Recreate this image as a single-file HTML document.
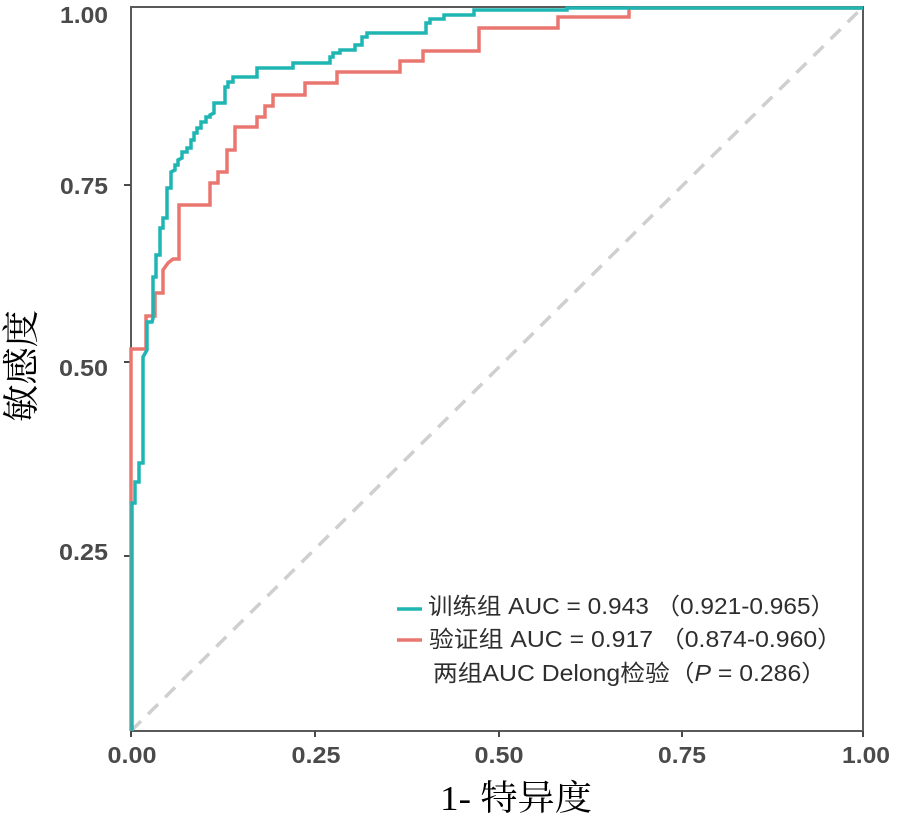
<!DOCTYPE html>
<html>
<head>
<meta charset="utf-8">
<style>
  html, body { margin:0; padding:0; background:#ffffff; }
  svg { display:block; }
</style>
</head>
<body>
<svg width="903" height="817" viewBox="0 0 903 817" xmlns="http://www.w3.org/2000/svg">
  <rect x="0" y="0" width="903" height="817" fill="#ffffff"/>

  <!-- diagonal reference -->
  <line x1="131" y1="731" x2="863" y2="7" stroke="#cfcfcf" stroke-width="3.5" stroke-dasharray="14 10"/>

  <!-- frame -->
  <rect x="131" y="7" width="732" height="724" fill="none" stroke="#5a5a5a" stroke-width="2"/>

  <!-- ticks -->
  <g stroke="#4a4a4a" stroke-width="2">
    <line x1="131" y1="731" x2="131" y2="737"/>
    <line x1="315" y1="731" x2="315" y2="737"/>
    <line x1="499" y1="731" x2="499" y2="737"/>
    <line x1="682" y1="731" x2="682" y2="737"/>
    <line x1="863" y1="731" x2="863" y2="737"/>
    <line x1="124" y1="185" x2="131" y2="185"/>
    <line x1="124" y1="362" x2="131" y2="362"/>
    <line x1="124" y1="556" x2="131" y2="556"/>
  </g>

  <!-- curves -->
  <path d="M131,731 L131,349 L146,349 L146,316 L155,316 L155,293 L163,293 L163,270 L168,263 L173,259 L179,259 L179,205 L210,205 L210,183 L218,183 L218,172 L227,172 L227,150 L235,150 L235,127 L257,127 L257,117 L265,117 L265,106 L273,106 L273,95 L305,95 L305,83 L337,83 L337,72 L400,72 L400,61 L423,61 L423,51 L479,51 L479,28 L558,28 L558,17 L629,17 L629,8 L863,8"
        fill="none" stroke="#ea7670" stroke-width="3.5"/>
  <path d="M132,731 L132,503 L135,503 L135,482 L139,482 L139,463 L143,463 L143,357 L147,350 L147,322 L152,322 L153,318 L153,277 L156,277 L156,255 L160,255 L160,228 L163,228 L163,218 L167,218 L167,188 L171,188 L171,172 L175,170 L175,165 L178,165 L178,160 L182,158 L182,152 L187,152 L187,148 L191,148 L191,140 L194,140 L194,133 L197,133 L197,128 L201,128 L201,122 L206,122 L206,117 L210,117 L210,115 L214,113 L214,103 L225,103 L225,87 L228,87 L228,82 L233,82 L233,77 L257,77 L257,68 L293,68 L293,63 L330,63 L330,57 L333,57 L333,53 L340,53 L340,50 L355,50 L355,45 L362,45 L362,37 L367,37 L367,33 L426,33 L426,23 L430,23 L430,19 L444,19 L444,15 L474,15 L474,10 L567,10 L567,8 L863,8"
        fill="none" stroke="#1fb5b3" stroke-width="3.5"/>

  <!-- y tick labels -->
  <g font-family="Liberation Sans, Arial, sans-serif" font-weight="bold" font-size="23" fill="#4a4a4a" text-anchor="end">
    <text x="108" y="23" textLength="48" lengthAdjust="spacingAndGlyphs">1.00</text>
    <text x="108" y="194" textLength="48" lengthAdjust="spacingAndGlyphs">0.75</text>
    <text x="108" y="376" textLength="49" lengthAdjust="spacingAndGlyphs">0.50</text>
    <text x="108" y="560" textLength="49" lengthAdjust="spacingAndGlyphs">0.25</text>
  </g>

  <!-- x tick labels -->
  <g font-family="Liberation Sans, Arial, sans-serif" font-weight="bold" font-size="23" fill="#4a4a4a" text-anchor="middle">
    <text x="132" y="763" textLength="49" lengthAdjust="spacingAndGlyphs">0.00</text>
    <text x="316" y="763" textLength="49" lengthAdjust="spacingAndGlyphs">0.25</text>
    <text x="499" y="763" textLength="49" lengthAdjust="spacingAndGlyphs">0.50</text>
    <text x="682" y="763" textLength="48" lengthAdjust="spacingAndGlyphs">0.75</text>
    <text x="866" y="763" textLength="48" lengthAdjust="spacingAndGlyphs">1.00</text>
  </g>

  <!-- axis titles -->
  <text x="440" y="810" font-family="Liberation Serif, 'Noto Serif CJK SC', serif" font-size="35" fill="#000" textLength="152" lengthAdjust="spacingAndGlyphs">1- 特异度</text>
  <text transform="translate(34,366) rotate(-90)" x="0" y="0" text-anchor="middle" font-family="Liberation Serif, 'Noto Serif CJK SC', serif" font-size="37" fill="#000" textLength="112" lengthAdjust="spacingAndGlyphs">敏感度</text>

  <!-- legend -->
  <line x1="397" y1="609" x2="422" y2="609" stroke="#1fb5b3" stroke-width="3.5"/>
  <line x1="397" y1="640" x2="422" y2="640" stroke="#ea7670" stroke-width="3.5"/>
  <g font-family="Liberation Sans, 'Noto Sans CJK SC', sans-serif" font-size="23" fill="#2e2e2e">
    <text x="428" y="614" textLength="407" lengthAdjust="spacingAndGlyphs">训练组 AUC = 0.943 （0.921-0.965）</text>
    <text x="429" y="647" textLength="413" lengthAdjust="spacingAndGlyphs">验证组 AUC = 0.917 （0.874-0.960）</text>
    <text x="433" y="681" textLength="393" lengthAdjust="spacingAndGlyphs">两组AUC Delong检验（<tspan font-style="italic">P</tspan> = 0.286）</text>
  </g>
</svg>
</body>
</html>
